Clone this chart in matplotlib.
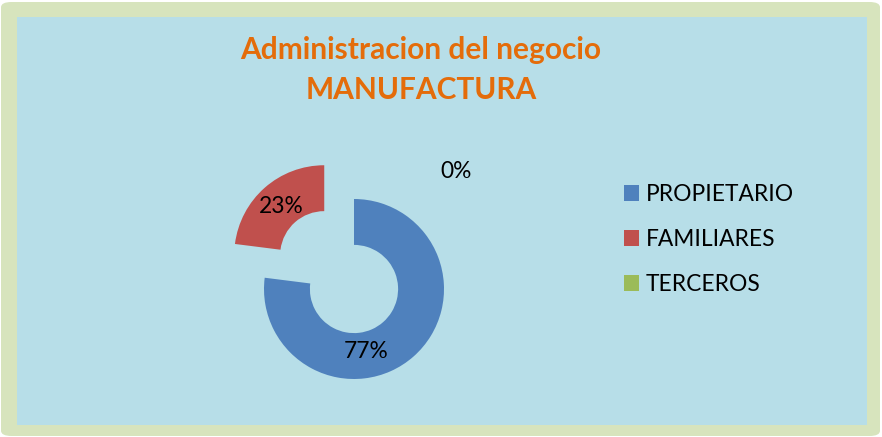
import matplotlib
matplotlib.use("Agg")
import matplotlib.pyplot as plt
from matplotlib.patches import FancyBboxPatch, Rectangle

categories = ["PROPIETARIO", "FAMILIARES", "TERCEROS"]
values = [77, 23, 0]
pct_labels = ["77%", "23%", "0%"]
colors = ["#4F81BD", "#C0504D", "#9BBB59"]
title = "Administracion del negocio\nMANUFACTURA"

W, H = 882, 437
plt.rcParams['font.family'] = ['Lato', 'DejaVu Sans']
fig = plt.figure(figsize=(W / 100, H / 100), dpi=100)
fig.patch.set_facecolor("white")

# outer green frame and inner blue area
fig.patches.append(FancyBboxPatch((1 / W, 1 / H), 879 / W, 434 / H,
                                  boxstyle="round,pad=0,rounding_size=0.012",
                                  transform=fig.transFigure, facecolor="#D7E4BD",
                                  edgecolor="none", zorder=-3))
fig.patches.append(Rectangle((17 / W, (H - 425) / H), (867 - 17) / W, (425 - 17) / H,
                             transform=fig.transFigure, facecolor="#B7DEE8",
                             edgecolor="none", zorder=-2))

fig.text(421 / W, 1 - 70 / H, title, ha="center", va="center", color="#E46C0A",
         fontsize=21.5, fontweight="bold", linespacing=1.55)

# donut axes: center at (354, 289) px, outer radius 90 px
R = 90.0
half = 150.0
cx, cy = 354, H - 289
ax = fig.add_axes([(cx - half) / W, (cy - half) / H, 2 * half / W, 2 * half / H])
ax.set_zorder(1)

wedges, _ = ax.pie(values, colors=colors, startangle=90, counterclock=False,
                   explode=[0, 0.5, 0], radius=1.0,
                   wedgeprops=dict(width=0.51, linewidth=0))
for w in wedges:
    w.set_clip_on(False)
ax.set_xlim(-half / R, half / R)
ax.set_ylim(-half / R, half / R)
ax.set_aspect("equal")
ax.axis("off")

label_pos = [(0.13, -0.70), (-0.81, 0.92), (1.13, 1.30)]
for txt, (x, y) in zip(pct_labels, label_pos):
    ax.text(x, y, txt, ha="center", va="center", fontsize=16.4, color="black")

leg = fig.legend(wedges, categories, loc="upper left",
                 bbox_to_anchor=(615 / W, 1 - 175 / H), frameon=False,
                 fontsize=16.4, handlelength=0.66, handleheight=0.66,
                 handletextpad=0.3, labelspacing=1.05, borderaxespad=0)

fig.savefig("out.png", dpi=100)
